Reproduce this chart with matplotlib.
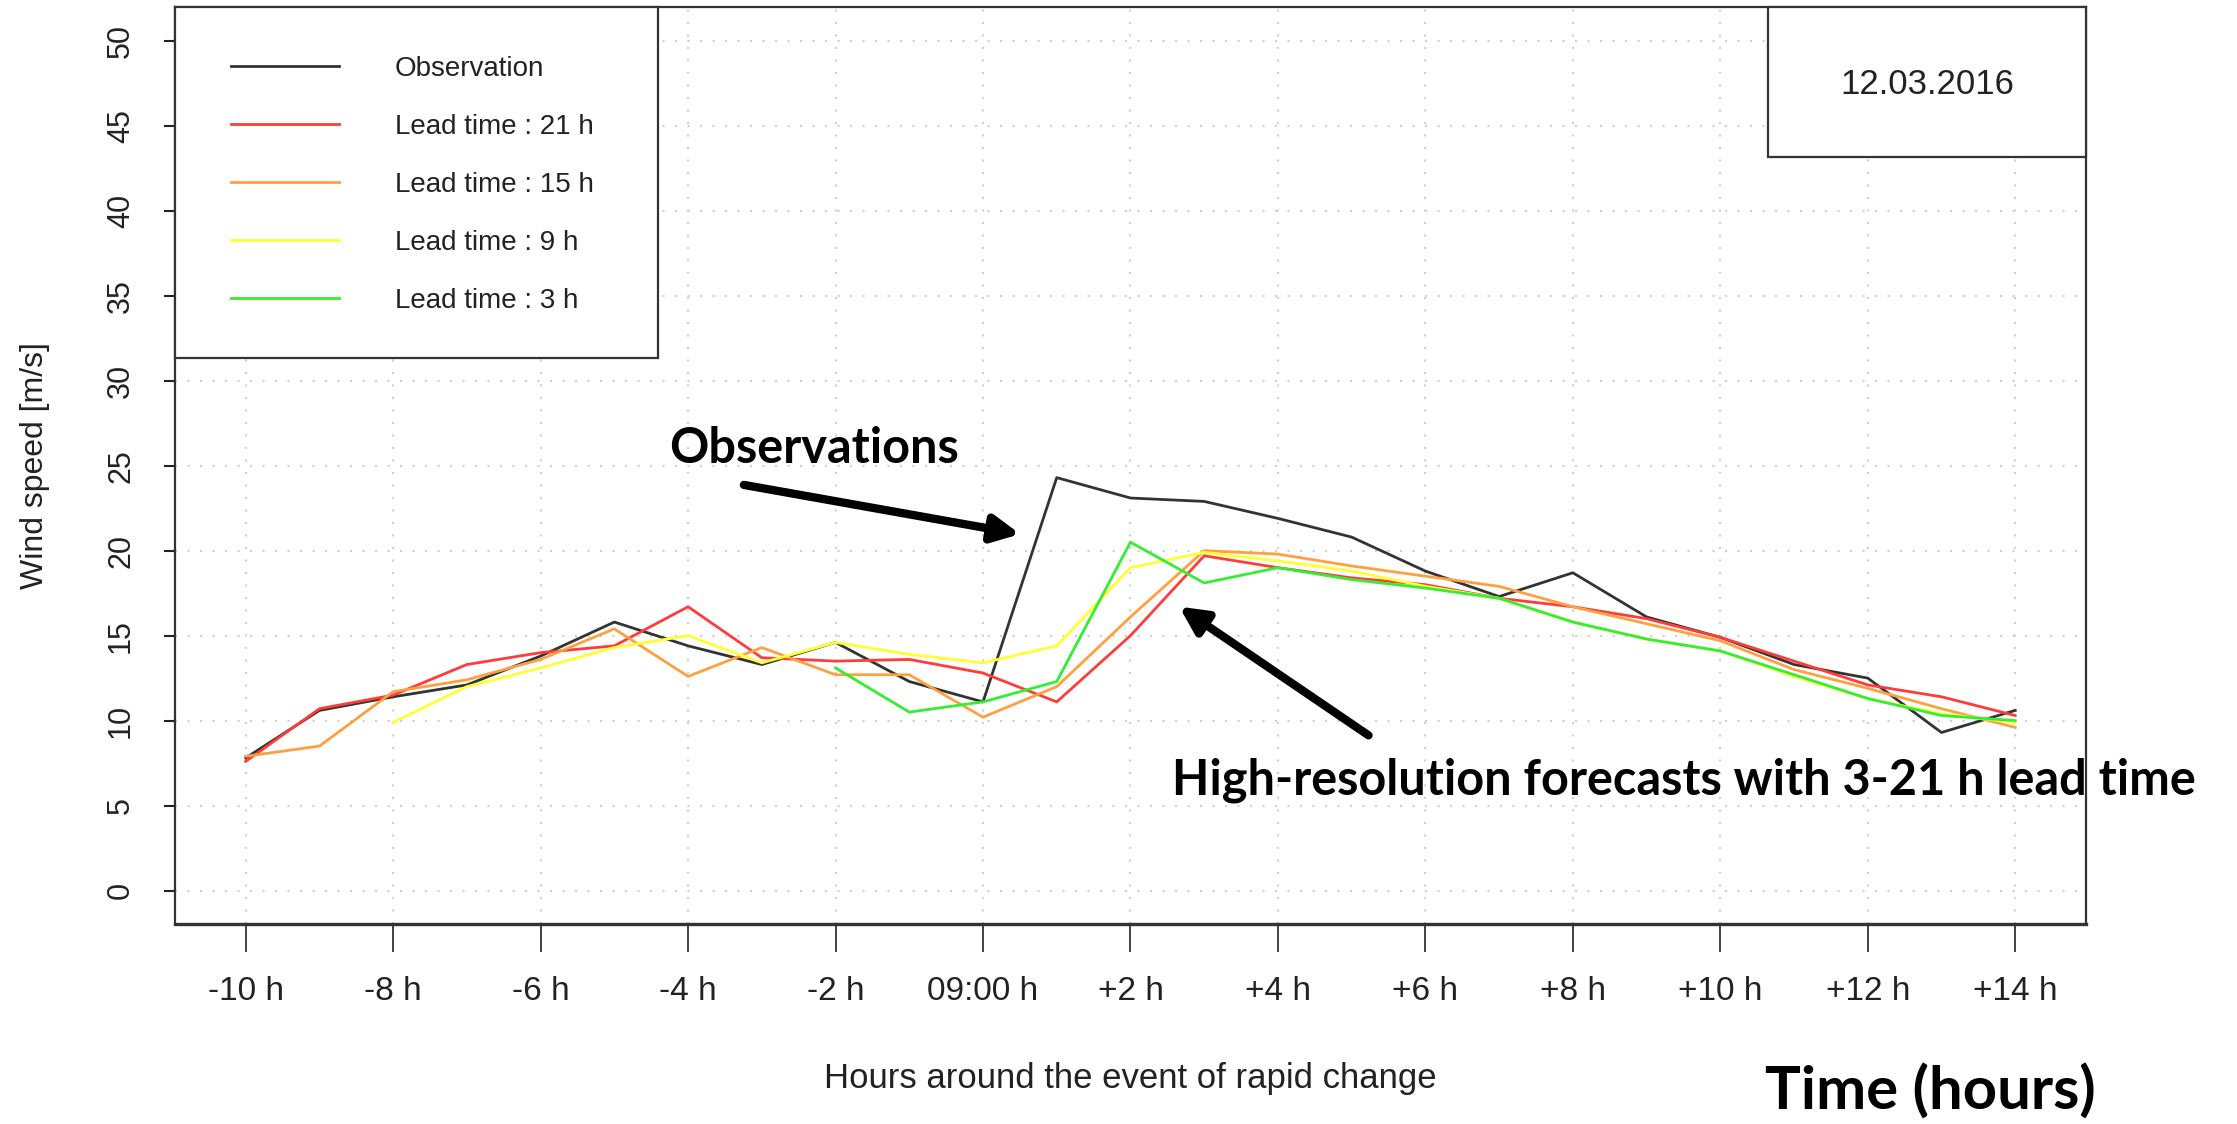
import matplotlib
matplotlib.use("Agg")
import matplotlib.pyplot as plt
from matplotlib.patches import Rectangle

plt.rcParams['font.family'] = ['Liberation Sans', 'DejaVu Sans']

# hours around the event (0 = 09:00)
hours = list(range(-10, 15))
tick_hours = list(range(-10, 15, 2))
tick_labels = ['-10 h', '-8 h', '-6 h', '-4 h', '-2 h', '09:00 h', '+2 h',
               '+4 h', '+6 h', '+8 h', '+10 h', '+12 h', '+14 h']

obs = [7.8, 10.6, 11.4, 12.1, 13.8, 15.8, 14.4, 13.3, 14.6, 12.3, 11.1, 24.3,
       23.1, 22.9, 21.9, 20.8, 18.8, 17.3, 18.7, 16.1, 14.9, 13.3, 12.5, 9.3, 10.6]
lead21 = [7.6, 10.7, 11.5, 13.3, 14.0, 14.4, 16.7, 13.7, 13.5, 13.6, 12.8, 11.1,
          15.0, 19.7, 19.0, 18.4, 18.0, 17.2, 16.7, 16.0, 14.9, 13.5, 12.1, 11.4, 10.3]
lead15 = [7.9, 8.5, 11.7, 12.4, 13.6, 15.4, 12.6, 14.3, 12.7, 12.7, 10.2, 12.0,
          16.1, 20.0, 19.8, 19.1, 18.5, 17.9, 16.7, 15.7, 14.7, 13.0, 11.9, 10.7, 9.6]
hours9 = list(range(-8, 15))
lead9 = [9.9, 12.0, 13.1, 14.3, 15.0, 13.4, 14.6, 13.9, 13.4, 14.4, 19.0, 19.9,
         19.4, 18.8, 17.9, 17.2, 15.8, 14.8, 14.1, 12.6, 11.3, 10.4, 9.9]
hours3 = list(range(-2, 15))
lead3 = [13.1, 10.5, 11.1, 12.3, 20.5, 18.1, 19.0, 18.3, 17.8, 17.2, 15.8, 14.8,
         14.1, 12.7, 11.3, 10.3, 10.0]

fig = plt.figure(figsize=(22.37, 11.24), dpi=100)
ax = fig.add_axes([0.0782, 0.1775, 0.8543, 0.8163])

grid_kw = dict(color='#d0d0d0', lw=1.5, linestyle=(0, (1, 5)), zorder=0)
for h in tick_hours:
    ax.axvline(h, **grid_kw)
for v in range(0, 51, 5):
    ax.axhline(v, **grid_kw)

ax.plot(hours, obs, color='#333333', lw=2.0, label='Observation', zorder=3)
ax.plot(hours, lead21, color='#ff3b3b', lw=2.0, label='Lead time : 21 h', zorder=3)
ax.plot(hours, lead15, color='#ffa040', lw=2.0, label='Lead time : 15 h', zorder=3)
ax.plot(hours9, lead9, color='#ffff33', lw=2.0, label='Lead time : 9 h', zorder=3)
ax.plot(hours3, lead3, color='#33ee33', lw=2.0, label='Lead time : 3 h', zorder=3)

ax.set_xlim(-10.96, 14.96)
ax.set_ylim(-2, 52)
ax.set_xticks(tick_hours)
ax.set_xticklabels(tick_labels, fontsize=24)
ax.set_yticks(range(0, 51, 5))
ax.set_yticklabels([str(v) for v in range(0, 51, 5)], fontsize=22,
                   rotation=90, va='center')
ax.tick_params(axis='x', length=20, width=1.2, pad=17, colors='#222222')
ax.tick_params(axis='y', length=8, width=1.5, pad=20, colors='#222222')
for s in ax.spines.values():
    s.set_color('#333333')
    s.set_linewidth(1.6)
ax.spines['bottom'].set_linewidth(2.4)

ax.set_xlabel('Hours around the event of rapid change', fontsize=25,
              color='#222222', labelpad=40)
ax.set_ylabel('Wind speed [m/s]', fontsize=23, color='#222222', labelpad=40)

# legend box and date box
ax.add_patch(Rectangle((0, 0.6174), 0.2527, 0.3826, transform=ax.transAxes,
                       facecolor='white', edgecolor='#333333', lw=1.6,
                       zorder=4, clip_on=False))
ax.add_patch(Rectangle((0.8336, 0.836), 0.1664, 0.164, transform=ax.transAxes,
                       facecolor='white', edgecolor='#333333', lw=1.6,
                       zorder=4, clip_on=False))
ax.text(0.9168, 0.916, '12.03.2016', transform=ax.transAxes, fontsize=25,
        ha='center', va='center', color='#222222', zorder=5)

leg = ax.legend(loc='upper left', bbox_to_anchor=(0.1033, 0.950),
                bbox_transform=fig.transFigure, frameon=False, fontsize=20,
                handlelength=3.9, handletextpad=2.0, labelspacing=1.15,
                borderpad=0, borderaxespad=0)
leg.set_zorder(6)
for t in leg.get_texts():
    t.set_color('#222222')

# annotations
bold = dict(family=['Lato', 'DejaVu Sans'], fontweight='bold', color='black')
ax.annotate('', xy=(0.54, 20.95), xytext=(-3.28, 23.9),
            arrowprops=dict(arrowstyle='-|>,head_length=1.6,head_width=0.8',
                            color='black', lw=6), zorder=6)
ax.text(-4.26, 26.0, 'Observations', fontsize=35, va='center', ha='left',
        zorder=6, **bold)
ax.annotate('', xy=(2.63, 16.8), xytext=(5.26, 9.04),
            arrowprops=dict(arrowstyle='-|>,head_length=1.6,head_width=0.8',
                            color='black', lw=6), zorder=6)
ax.text(2.56, 6.46, 'High-resolution forecasts with 3-21 h lead time',
        fontsize=35, va='center', ha='left', zorder=6, **bold)
fig.text(0.789, 0.029, 'Time (hours)', fontsize=43, va='center', ha='left', **bold)

fig.savefig('out.png', dpi=100)
